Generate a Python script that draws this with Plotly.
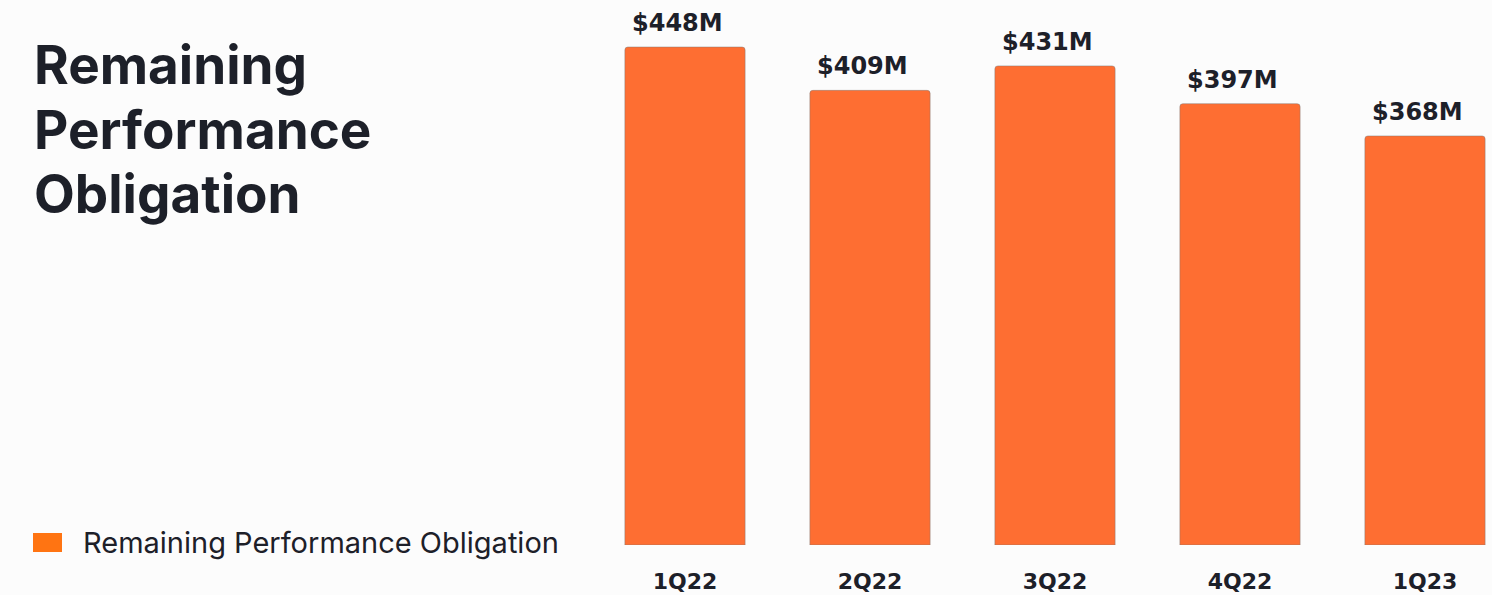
import plotly.graph_objects as go

# Remaining performance obligation by quarter ($M)
quarters = ["1Q22", "2Q22", "3Q22", "4Q22", "1Q23"]
rpo_values = [448, 409, 431, 397, 368]
value_labels = ["$448M", "$409M", "$431M", "$397M", "$368M"]

title_lines = ["Remaining", "Performance", "Obligation"]
series_name = "Remaining Performance Obligation"

W, H = 1492, 595
BAR_COLOR = "#FE6E32"
KEY_COLOR = "#FF7412"
TEXT_COLOR = "#1D2029"
BG = "#FCFCFC"

fig = go.Figure()
fig.add_trace(go.Bar(
    x=list(range(len(quarters))),
    y=rpo_values,
    name=series_name,
    marker=dict(color=BAR_COLOR, line=dict(color="rgba(120,120,120,0.45)", width=1),
                cornerradius=3),
    width=0.65,
    showlegend=False,
    hoverinfo="skip",
))

# value labels above each bar
for i, (v, lab) in enumerate(zip(rpo_values, value_labels)):
    fig.add_annotation(
        x=i, y=v, xref="x", yref="y", text=lab, showarrow=False,
        yanchor="bottom", xanchor="center", yshift=8, xshift=-8,
        font=dict(family="DejaVu Sans", size=24, color=TEXT_COLOR, weight="bold"),
    )

# heading on the left, one annotation per line
for k, line in enumerate(title_lines):
    fig.add_annotation(
        x=32 / W, y=1 - (65 + 64.5 * k) / H, xref="paper", yref="paper",
        text=line, showarrow=False, align="left",
        xanchor="left", yanchor="middle",
        font=dict(family="Inter", size=53, color=TEXT_COLOR, weight="bold"),
    )

# custom legend key
fig.add_shape(
    type="rect", xref="paper", yref="paper",
    x0=33 / W, x1=62 / W, y0=1 - 552 / H, y1=1 - 533 / H,
    fillcolor=KEY_COLOR, line=dict(width=0),
)
fig.add_annotation(
    x=81 / W, y=1 - 542 / H, xref="paper", yref="paper",
    text=series_name, showarrow=False, xanchor="left", yanchor="middle",
    font=dict(family="Inter", size=29, color=TEXT_COLOR),
)

px_per_unit = 498 / 448
fig.update_layout(
    width=W, height=H,
    margin=dict(l=0, r=0, t=0, b=0),
    paper_bgcolor=BG, plot_bgcolor=BG,
    bargap=0.35,
    xaxis=dict(
        domain=[592.5 / W, 1],
        range=[-0.5, -0.5 + (W - 592.5) / 185],
        tickmode="array", tickvals=list(range(len(quarters))), ticktext=quarters,
        showgrid=False, zeroline=False, showline=False, ticks="",
        ticklabelstandoff=21,
        tickfont=dict(family="DejaVu Sans", size=22, color=TEXT_COLOR, weight="bold"),
        automargin=False, fixedrange=True,
    ),
    yaxis=dict(
        domain=[(H - 545) / H, 1],
        range=[0, 545 / px_per_unit],
        visible=False, automargin=False, fixedrange=True,
    ),
)

fig.write_html("out.html")
